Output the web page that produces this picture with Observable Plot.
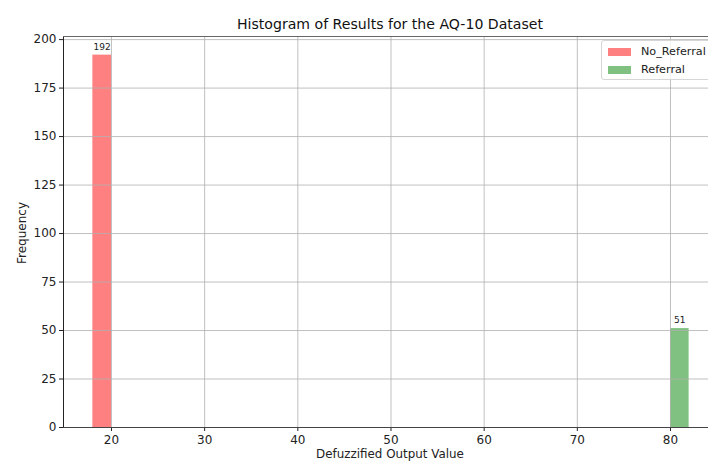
<!DOCTYPE html>
<html>
<head>
<meta charset="utf-8">
<script src="https://cdn.jsdelivr.net/npm/d3@7"></script>
<script src="https://cdn.jsdelivr.net/npm/@observablehq/plot@0.6"></script>
<style>
  html, body { margin: 0; padding: 0; background: #fff; }
  #chart { position: relative; width: 708px; height: 461px; overflow: hidden; font-family: "DejaVu Sans", sans-serif; }
  .legend { position: absolute; left: 601px; top: 40px; width: 120px; height: 38px; border: 1px solid #d6d6d6; border-radius: 3px; background: rgba(255,255,255,0.8); font-size: 11.2px; color: #222; }
  .legend .row { position: absolute; left: 6px; display: flex; align-items: center; }
  .legend .sw { width: 23px; height: 8px; margin-right: 10px; }
</style>
</head>
<body>
<div id="chart"></div>
<script>
// Histogram bins for the AQ-10 defuzzified output
const categories = ["No_Referral", "Referral"];
const binStart = [18, 80];
const binEnd = [20, 82];
const counts = [192, 51];
const colors = ["#ff8080", "#80c080"];

const xTicks = [20, 30, 40, 50, 60, 70, 80];
const yTicks = [0, 25, 50, 75, 100, 125, 150, 175, 200];

const bins = categories.map((c, i) => ({category: c, x1: binStart[i], x2: binEnd[i], count: counts[i]}));

const W = 708, H = 461;
const mL = 63, mT = 36, mB = 34, mR = 0;
const xDomain = [14.85, 84.08];
const yDomain = [0, 201.6];

const plot = Plot.plot({
  width: W,
  height: H,
  marginLeft: mL,
  marginRight: mR,
  marginTop: mT,
  marginBottom: mB,
  style: {fontFamily: "DejaVu Sans, sans-serif", fontSize: "12px", color: "#222", background: "white"},
  x: {domain: xDomain},
  y: {domain: yDomain},
  color: {domain: categories, range: colors},
  marks: [
    Plot.rectY(bins, {x1: "x1", x2: "x2", y1: 0, y2: "count", fill: "category", inset: 0}),
    Plot.gridX(xTicks, {stroke: "#b0b0b0", strokeOpacity: 1, strokeWidth: 0.8}),
    Plot.gridY(yTicks, {stroke: "#b0b0b0", strokeOpacity: 1, strokeWidth: 0.8}),
    Plot.text(bins, {x: d => (d.x1 + d.x2) / 2, y: "count", text: d => String(d.count), dy: -8, fontSize: 9, fill: "#222"}),
    Plot.axisX(xTicks, {tickSize: 4, tickPadding: 4, fontSize: 12, label: null, stroke: "#222"}),
    Plot.axisY(yTicks, {tickSize: 4, tickPadding: 3, fontSize: 12, label: null, stroke: "#222"}),
    Plot.frame({anchor: "left", stroke: "#222"}),
    Plot.frame({anchor: "bottom", stroke: "#444"}),
    Plot.frame({anchor: "top", stroke: "#666"})
  ]
});

const chart = document.getElementById("chart");
chart.appendChild(plot);

const svg = d3.select(plot);
svg.append("text")
  .attr("x", 390).attr("y", 29)
  .attr("text-anchor", "middle")
  .attr("font-size", 14.1)
  .attr("fill", "#111")
  .text("Histogram of Results for the AQ-10 Dataset");
svg.append("text")
  .attr("x", 390).attr("y", 458)
  .attr("text-anchor", "middle")
  .attr("font-size", 11.9)
  .attr("fill", "#222")
  .text("Defuzzified Output Value");
svg.append("text")
  .attr("transform", "translate(26,233) rotate(-90)")
  .attr("text-anchor", "middle")
  .attr("font-size", 12)
  .attr("fill", "#222")
  .text("Frequency");

// legend
const legend = document.createElement("div");
legend.className = "legend";
categories.forEach((c, i) => {
  const row = document.createElement("div");
  row.className = "row";
  row.style.top = (4 + i * 18) + "px";
  const sw = document.createElement("span");
  sw.className = "sw";
  sw.style.background = colors[i];
  const label = document.createElement("span");
  label.textContent = c;
  row.appendChild(sw);
  row.appendChild(label);
  legend.appendChild(row);
});
chart.appendChild(legend);
</script>
</body>
</html>
